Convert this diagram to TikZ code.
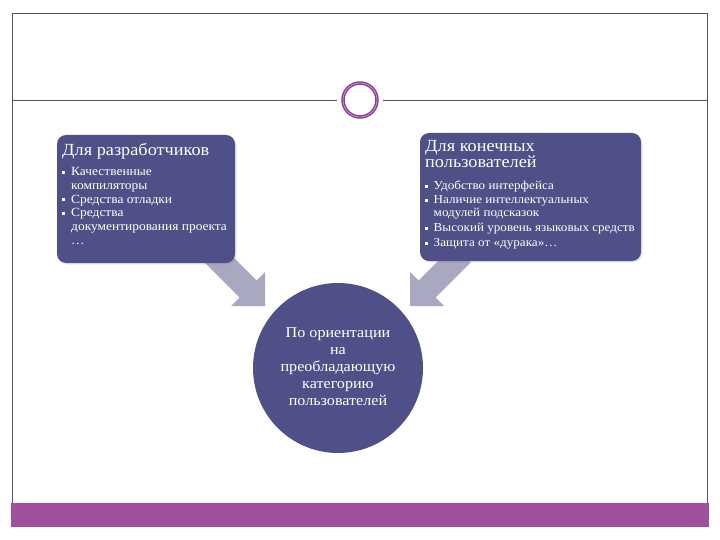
\documentclass[tikz,border=0pt]{standalone}
\usepackage{fontspec}
\setmainfont[FakeStretch=1.075]{Liberation Serif}
\usetikzlibrary{shadows}
\definecolor{boxc}{HTML}{4F5088}
\definecolor{arrc}{HTML}{A9A8C1}
\definecolor{framec}{HTML}{5F4B63}
\definecolor{ringc}{HTML}{8D3E94}
\definecolor{barc}{HTML}{A04F9F}
\newcommand{\bul}{\makebox[9pt][l]{\rule[2pt]{3pt}{3pt}}}
\newcommand{\bulr}{\makebox[8.5pt][l]{\rule[2pt]{3pt}{3pt}}}
\begin{document}
\begin{tikzpicture}[x=1pt,y=-1pt,
  panel/.style={fill=boxc, rounded corners=9pt, drop shadow={opacity=0.18, shadow xshift=1.5pt, shadow yshift=-1.5pt}},
  blockarrow/.style={fill=arrc},
  ttl/.style={text=white, font=\fontsize{17}{17}\selectfont, anchor=base west, inner sep=0pt},
  itm/.style={text=white, font=\fontsize{12.5}{13}\selectfont, anchor=base west, inner sep=0pt},
  itmr/.style={text=white, font=\fontsize{12.2}{13}\selectfont, anchor=base west, inner sep=0pt},
  ctr/.style={text=white, font=\fontsize{15}{17}\selectfont, anchor=base, inner sep=0pt},
]
\useasboundingbox (0,0) rectangle (720,540);
% frame
\draw[framec, line width=0.8pt] (12,13) rectangle (707,503);
\draw[framec, line width=0.8pt] (12,100) -- (707,100);
\fill[barc] (11,503) rectangle (709,527);
\node[circle, minimum size=46pt, fill=white, inner sep=0pt] (halo) at (360,100) {};
\node[circle, draw=ringc, line width=3.5pt, minimum size=34pt, inner sep=0pt] (ring) at (360,100) {};
\draw[ringc!45!white, line width=0.6pt] (ring.center) circle (17pt);
% arrows
\fill[blockarrow] (221.5,245.5) -- (256.5,280.5) -- (265,272) -- (265,306) -- (231,306) -- (239.5,297.5) -- (204.5,262.5) -- cycle;
\fill[blockarrow] (453.5,245.5) -- (418.5,280.5) -- (410,272) -- (410,306) -- (444,306) -- (435.5,297.5) -- (470.5,262.5) -- cycle;
% boxes
\path[panel] (57,135) rectangle (235,263);
\path[panel] (420,133) rectangle (641,261);
\node[circle, fill=boxc, minimum size=170pt, inner sep=0pt] (hub) at (338,368) {};
% left text
\node[ttl] (lt) at (62,156) {Для разработчиков};
\node[itm] (l1) at (62,176) {\bul Качественные};
\node[itm] (l1b) at (71,189.6) {компиляторы};
\node[itm] (l2) at (62,203.2) {\bul Средства отладки};
\node[itm] (l3) at (62,216.8) {\bul Средства};
\node[itm] (l3b) at (71,230.4) {документирования проекта};
\node[itm] (l3c) at (71,244) {…};
% right text
\node[ttl] (rt1) at (425,152) {Для конечных};
\node[ttl] (rt2) at (425,167.5) {пользователей};
\node[itmr] (r1) at (425,190) {\bulr Удобство интерфейса};
\node[itmr] (r2) at (425,204) {\bulr Наличие интеллектуальных};
\node[itmr] (r2b) at (433.5,217) {модулей подсказок};
\node[itmr] (r3) at (425,232) {\bulr Высокий уровень языковых средств};
\node[itmr] (r4) at (425,247) {\bulr Защита от «дурака»…};
% centre text
\node[ctr] (c1) at (338,337) {По ориентации};
\node[ctr] (c2) at (338,354) {на};
\node[ctr] (c3) at (338,371) {преобладающую};
\node[ctr] (c4) at (338,388) {категорию};
\node[ctr] (c5) at (338,405) {пользователей};
\end{tikzpicture}
\end{document}
